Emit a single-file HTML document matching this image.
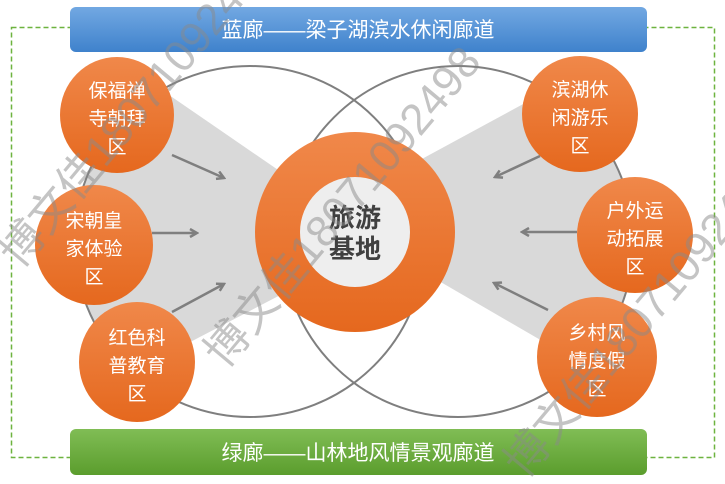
<!DOCTYPE html>
<html><head><meta charset="utf-8">
<style>
html,body{margin:0;padding:0;background:#fff;width:725px;height:484px;overflow:hidden}
svg{display:block}
text{font-family:"Liberation Sans","Noto Sans CJK SC",sans-serif}
</style></head><body>
<svg width="725" height="484" viewBox="0 0 725 484">
<defs>
<linearGradient id="og" x1="0" y1="0" x2="0" y2="1"><stop offset="0" stop-color="#f0884a"/><stop offset="1" stop-color="#e5681e"/></linearGradient>
<linearGradient id="bg" x1="0" y1="0" x2="0" y2="1"><stop offset="0" stop-color="#72a8e2"/><stop offset="1" stop-color="#3f82cc"/></linearGradient>
<linearGradient id="gg" x1="0" y1="0" x2="0" y2="1"><stop offset="0" stop-color="#80bd55"/><stop offset="1" stop-color="#5b9d2d"/></linearGradient>
<clipPath id="cl"><circle cx="250" cy="241.5" r="175.5"/></clipPath>
<clipPath id="cr"><circle cx="458" cy="241.5" r="175.5"/></clipPath>
<marker id="ar" markerWidth="10" markerHeight="10" refX="8" refY="5" orient="auto" markerUnits="userSpaceOnUse"><path d="M1,1 L8,5 L1,9" fill="none" stroke="#7f7f7f" stroke-width="2.5"/></marker>
</defs>
<rect x="11.5" y="27.5" width="703" height="430" fill="none" stroke="#6db33f" stroke-width="1.5" stroke-dasharray="5,3"/>
<polygon points="60,20 300,185 290,290 60,410" fill="#d9d9d9" clip-path="url(#cl)"/>
<polygon points="420,160 680,19 680,421 420,270" fill="#d9d9d9" clip-path="url(#cr)"/>
<circle cx="250" cy="241.5" r="175.5" fill="none" stroke="#7f7f7f" stroke-width="2"/>
<circle cx="458" cy="241.5" r="175.5" fill="none" stroke="#7f7f7f" stroke-width="2"/>
<circle cx="355" cy="232" r="100" fill="url(#og)"/>
<circle cx="355" cy="232" r="55" fill="#eeeeee"/>
<text x="355" y="227" text-anchor="middle" font-size="26" font-weight="bold" fill="#404040">旅游</text>
<text x="355" y="258" text-anchor="middle" font-size="26" font-weight="bold" fill="#404040">基地</text>
<g stroke="#7f7f7f" stroke-width="2.5" marker-end="url(#ar)">
<line x1="172" y1="155" x2="224" y2="178"/>
<line x1="152" y1="233" x2="197" y2="233"/>
<line x1="172" y1="312" x2="224" y2="284"/>
<line x1="540" y1="156" x2="495" y2="177"/>
<line x1="577" y1="232" x2="522" y2="232"/>
<line x1="548" y1="310" x2="494" y2="283"/>
</g>
<g fill="url(#og)">
<ellipse cx="117" cy="115" rx="57" ry="58"/>
<ellipse cx="94" cy="245" rx="59" ry="60"/>
<ellipse cx="137" cy="362" rx="58" ry="60"/>
<ellipse cx="580" cy="114" rx="58" ry="58"/>
<ellipse cx="635" cy="235" rx="58" ry="58"/>
<ellipse cx="597" cy="357" rx="60" ry="60"/>
</g>
<g fill="#fff" font-size="19" text-anchor="middle">
<text x="117" y="97">保福禅</text><text x="117" y="125">寺朝拜</text><text x="117" y="153">区</text>
<text x="94" y="227">宋朝皇</text><text x="94" y="255">家体验</text><text x="94" y="283">区</text>
<text x="137" y="344">红色科</text><text x="137" y="372">普教育</text><text x="137" y="400">区</text>
<text x="580" y="96">滨湖休</text><text x="580" y="124">闲游乐</text><text x="580" y="152">区</text>
<text x="635" y="217">户外运</text><text x="635" y="245">动拓展</text><text x="635" y="273">区</text>
<text x="597" y="339">乡村风</text><text x="597" y="367">情度假</text><text x="597" y="395">区</text>
</g>
<rect x="70" y="7" width="577" height="45" rx="6" fill="url(#bg)"/>
<text x="358" y="37" text-anchor="middle" font-size="21" fill="#fff">蓝廊——梁子湖滨水休闲廊道</text>
<rect x="70" y="429" width="577" height="46" rx="6" fill="url(#gg)"/>
<text x="358" y="460" text-anchor="middle" font-size="21" fill="#fff">绿廊——山林地风情景观廊道</text>
<g fill="#8a8a8a" fill-opacity="0.5" font-size="44">
<text transform="translate(20,270) rotate(-50)">博文佳18071092498</text>
<text transform="translate(225,370) rotate(-50)">博文佳18071092498</text>
<text transform="translate(525,480) rotate(-50)">博文佳18071092498</text>
</g>
</svg>
</body></html>
